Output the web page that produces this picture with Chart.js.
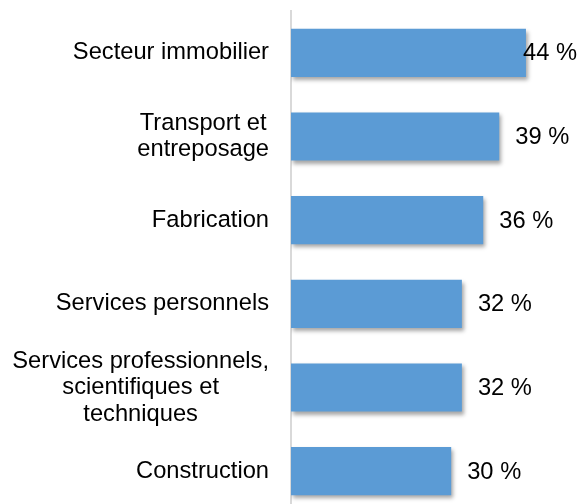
<!DOCTYPE html>
<html>
<head>
<meta charset="utf-8">
<script src="https://cdn.jsdelivr.net/npm/chart.js@4/dist/chart.umd.min.js"></script>
<style>
  html, body { margin: 0; padding: 0; background: #fff; overflow: hidden; }
  #wrap { position: relative; width: 581px; height: 513px; }
</style>
</head>
<body>
<div id="wrap"><canvas id="barChart"></canvas></div>
<script>
const categories = [
    ['Secteur immobilier'],
    ['Transport et', 'entreposage'],
    ['Fabrication'],
    ['Services personnels'],
    ['Services professionnels,', 'scientifiques et', 'techniques'],
    ['Construction'],
];
const shares = [44, 39, 36, 32, 32, 30];
const valueLabels = shares.map(v => v + ' %');

const FONT = '23.7px "Liberation Sans", Arial, sans-serif';

// office-like soft shadow under each bar
const barShadow = {
    id: 'barShadow',
    beforeDatasetDraw(chart) {
        const ctx = chart.ctx;
        ctx.save();
        ctx.shadowColor = 'rgba(0, 0, 0, 0.35)';
        ctx.shadowBlur = 4;
        ctx.shadowOffsetX = 2;
        ctx.shadowOffsetY = 3;
    },
    afterDatasetDraw(chart) {
        chart.ctx.restore();
    },
};

// category names: block right-aligned to the axis, lines centred within it
const categoryLabels = {
    id: 'categoryLabels',
    afterDraw(chart) {
        const ctx = chart.ctx;
        const yScale = chart.scales.y;
        const right = chart.chartArea.left - 22;
        const lineH = 26.5;
        ctx.save();
        ctx.font = FONT;
        ctx.fillStyle = '#000';
        ctx.textBaseline = 'middle';
        ctx.textAlign = 'center';
        categories.forEach((lines, i) => {
            const widest = Math.max(...lines.map(l => ctx.measureText(l).width));
            const cx = right - widest / 2;
            const cy = yScale.getPixelForValue(i);
            const top = cy - (lines.length - 1) * lineH / 2;
            lines.forEach((l, j) => ctx.fillText(l, cx, top + j * lineH));
        });
        ctx.restore();
    },
};

// value labels at the end of each bar, kept inside the canvas
const valueLabelPlugin = {
    id: 'valueLabels',
    afterDatasetsDraw(chart) {
        const ctx = chart.ctx;
        const meta = chart.getDatasetMeta(0);
        ctx.save();
        ctx.font = FONT;
        ctx.fillStyle = '#000';
        ctx.textBaseline = 'middle';
        ctx.textAlign = 'left';
        meta.data.forEach((bar, i) => {
            const txt = valueLabels[i];
            const w = ctx.measureText(txt).width;
            const x = Math.min(bar.x + 16, chart.width - 4 - w);
            ctx.fillText(txt, x, bar.y + 1);
        });
        ctx.restore();
    },
};

const ctxEl = document.getElementById('barChart');

new Chart(ctxEl, {
    type: 'bar',
    data: {
        labels: categories,
        datasets: [
            {
                data: shares,
                backgroundColor: '#5b9bd5',
                borderWidth: 0,
                categoryPercentage: 1,
                barPercentage: 0.575,
            },
        ],
    },
    options: {
        indexAxis: 'y',
        responsive: true,
        maintainAspectRatio: false,
        animation: false,
        events: [],
        layout: {
            padding: { top: 11, right: 23, bottom: 0, left: 0 },
        },
        plugins: {
            legend: { display: false },
            tooltip: { enabled: false },
        },
        scales: {
            x: {
                min: 0,
                max: 50,
                display: false,
            },
            y: {
                ticks: { display: false },
                grid: { display: false, drawTicks: false },
                border: { display: true, color: '#d9d9d9', width: 2 },
                afterFit(scale) {
                    scale.width = 291;
                },
            },
        },
    },
    plugins: [barShadow, categoryLabels, valueLabelPlugin],
});
</script>
</body>
</html>
